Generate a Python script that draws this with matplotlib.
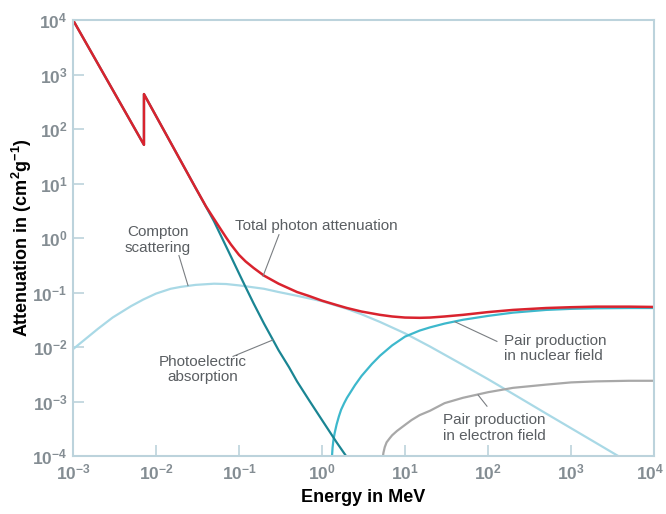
import matplotlib
matplotlib.use("Agg")
import matplotlib.pyplot as plt
from matplotlib.ticker import FixedLocator, FixedFormatter
from matplotlib.transforms import ScaledTranslation

plt.rcParams['font.family'] = ['Liberation Sans', 'DejaVu Sans']
plt.rcParams['mathtext.fontset'] = 'custom'
plt.rcParams['mathtext.rm'] = 'Liberation Sans:bold'
plt.rcParams['mathtext.it'] = 'Liberation Sans:bold'
plt.rcParams['mathtext.bf'] = 'Liberation Sans:bold'

# energy in MeV, attenuation in cm^2/g
total_e = [0.001, 0.00716, 0.00716, 0.03, 0.04, 0.05, 0.06, 0.07, 0.08, 0.1, 0.12, 0.15, 0.2,
           0.3, 0.5, 0.7, 1, 1.5, 2, 3, 5, 7, 10, 15, 20, 30, 50, 100, 200, 500, 1000, 2000,
           5000, 10000]
total_mu = [10000, 51.3, 437, 8.3, 3.8, 2.24, 1.46, 1.02, 0.759, 0.49, 0.372, 0.282, 0.204,
            0.145, 0.102, 0.0861, 0.0708, 0.0589, 0.0519, 0.0447, 0.0389, 0.0363, 0.0347,
            0.0343, 0.0347, 0.0363, 0.0389, 0.0437, 0.0479, 0.0519, 0.0537, 0.055, 0.055, 0.0543]

photo_e = [0.001, 0.00716, 0.00716, 0.03, 0.04, 0.05, 0.06, 0.07, 0.08, 0.1, 0.12, 0.15, 0.2,
           0.25, 0.3, 0.4, 0.5, 0.7, 1, 1.5, 1.95]
photo_mu = [10000, 51.3, 437, 8.3, 3.76, 2.02, 1.135, 0.697, 0.457, 0.224, 0.126, 0.063, 0.0269,
            0.0145, 0.0087, 0.00427, 0.00234, 0.00105, 0.000457, 0.000178, 0.0001]

compton_e = [0.001, 0.0015, 0.002, 0.003, 0.005, 0.007, 0.01, 0.015, 0.02, 0.03, 0.05, 0.07,
             0.1, 0.2, 0.3, 0.5, 1, 2, 3, 5, 10, 20, 50, 100, 200, 500, 1000, 2000, 3700]
compton_mu = [0.00912, 0.0151, 0.0216, 0.0347, 0.0562, 0.0741, 0.0955, 0.117, 0.127, 0.138,
              0.145, 0.143, 0.135, 0.117, 0.102, 0.0871, 0.0692, 0.0501, 0.0398, 0.0288,
              0.0178, 0.0102, 0.00468, 0.00257, 0.00138, 0.000603, 0.000324, 0.000174, 0.0001]

nuclear_e = [1.32, 1.34, 1.37, 1.42, 1.5, 1.6, 1.7, 1.85, 2, 2.5, 3, 4, 5, 7, 10, 15, 20, 30,
             50, 100, 200, 500, 1000, 2000, 5000, 10000]
nuclear_mu = [0.0001, 0.000141, 0.000191, 0.000263, 0.00038, 0.000537, 0.000708, 0.000933,
              0.00117, 0.002, 0.00295, 0.0049, 0.00692, 0.0107, 0.0155, 0.02, 0.0229, 0.0269,
              0.0316, 0.0372, 0.0427, 0.0479, 0.0501, 0.0513, 0.0519, 0.0519]

electron_e = [5.43, 5.5, 5.7, 6, 6.5, 7, 8, 10, 12, 15, 20, 30, 50, 100, 200, 500, 1000,
              2000, 5000, 10000]
electron_mu = [0.0001, 0.000115, 0.000145, 0.000178, 0.000209, 0.00024, 0.000288, 0.000372,
               0.000457, 0.000562, 0.000676, 0.000933, 0.00117, 0.00148, 0.00178, 0.00204,
               0.00224, 0.00234, 0.0024, 0.0024]

decades_x = [1e-3, 1e-2, 1e-1, 1e0, 1e1, 1e2, 1e3, 1e4]
labels_x = ['$10^{-3}$', '$10^{-2}$', '$10^{-1}$', '$10^{0}$', '$10^{1}$', '$10^{2}$', '$10^{3}$', '$10^{4}$']
decades_y = [1e-4, 1e-3, 1e-2, 1e-1, 1e0, 1e1, 1e2, 1e3, 1e4]
labels_y = ['$10^{-4}$', '$10^{-3}$', '$10^{-2}$', '$10^{-1}$', '$10^{0}$', '$10^{1}$', '$10^{2}$', '$10^{3}$', '$10^{4}$']

fig = plt.figure(figsize=(6.66, 5.14), dpi=100)
ax = fig.add_axes([73 / 666, 1 - 456 / 514, (654 - 73) / 666, (456 - 20) / 514])
ax.set_xscale('log')
ax.set_yscale('log')
ax.set_xlim(1e-3, 1e4)
ax.set_ylim(1e-4, 1e4)

ax.plot(compton_e, compton_mu, color='#a9d9e6', lw=1.6)
ax.plot(electron_e, electron_mu, color='#a8a8a8', lw=1.6)
ax.plot(nuclear_e, nuclear_mu, color='#3db8cc', lw=1.6)
ax.plot(photo_e, photo_mu, color='#1a8593', lw=1.6)
ax.plot(total_e, total_mu, color='#d9232e', lw=1.8)

spine_col = '#bcd3dc'
for s in ax.spines.values():
    s.set_color(spine_col)
    s.set_linewidth(1.5)

ax.xaxis.set_major_locator(FixedLocator(decades_x))
ax.xaxis.set_major_formatter(FixedFormatter(labels_x))
ax.yaxis.set_major_locator(FixedLocator(decades_y))
ax.yaxis.set_major_formatter(FixedFormatter(labels_y))
ax.minorticks_off()
ax.tick_params(direction='in', length=8, width=1.2, color=spine_col,
               labelcolor='#848d93', labelsize=12.5)
ax.tick_params(axis='x', pad=5)
ax.tick_params(axis='y', pad=4)

# keep the last energy label inside the figure
last = ax.get_xticklabels()[-1]
last.set_transform(last.get_transform() + ScaledTranslation(-0.04, 0, fig.dpi_scale_trans))

fig.text(363 / 666, 1 - 497 / 514, 'Energy in MeV', ha='center', va='center',
         fontsize=13, fontweight='bold', color='black')
fig.text(22 / 666, 1 - 238 / 514, 'Attenuation in (cm$^{2}$g$^{-1}$)', ha='center', va='center',
         rotation=90, fontsize=13, fontweight='bold', color='black')

# labels with leader lines
txt = dict(fontsize=11, color='#5a5e62', linespacing=1.15)
lead = dict(color='#7a7e82', lw=0.8)

ax.text(0.01057, 0.93, 'Compton\nscattering', ha='center', va='center', **txt)
ax.plot([0.0189, 0.0243], [0.476, 0.134], **lead)

ax.text(0.0895, 1.69, 'Total photon attenuation', ha='left', va='center', **txt)
ax.plot([0.303, 0.195], [1.15, 0.2], **lead)

ax.text(0.0368, 0.00389, 'Photoelectric\nabsorption', ha='center', va='center', **txt)
ax.plot([0.0848, 0.257], [0.00673, 0.0135], **lead)

ax.text(156, 0.00942, 'Pair production\nin nuclear field', ha='left', va='center', **txt)
ax.plot([128, 40], [0.01268, 0.029], **lead)

ax.text(28.7, 0.000324, 'Pair production\nin electron field', ha='left', va='center', **txt)
ax.plot([97.2, 75.9], [0.00082, 0.00132], **lead)

fig.savefig('out.png', dpi=100)
